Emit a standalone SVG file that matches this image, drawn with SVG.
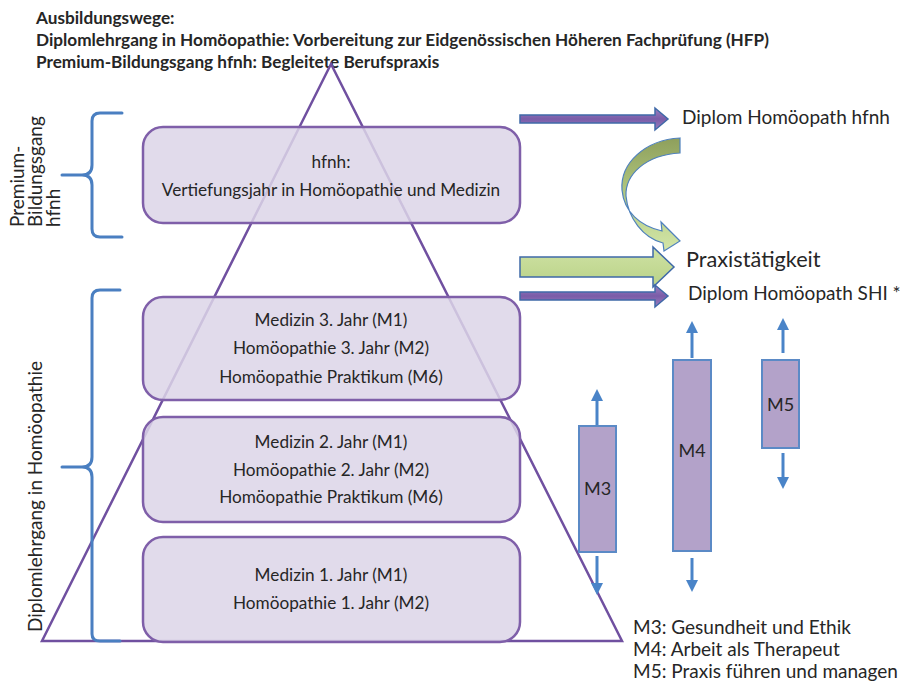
<svg xmlns="http://www.w3.org/2000/svg" width="906" height="682" viewBox="0 0 906 682">
<style>
text{font-family:Lato,"Liberation Sans",sans-serif;fill:#262626}
.hdr{font-weight:bold;font-size:17.2px}
.bx{fill:#dcd5e7;fill-opacity:0.85;stroke:#7f5fa9;stroke-width:2.5}
.bt{font-size:17.2px;text-anchor:middle}
.brace{fill:none;stroke:#4a7fc1;stroke-width:3;stroke-linecap:round;stroke-linejoin:round}
.m{fill:#b3a2c9;stroke:#5b8ac6;stroke-width:2}
.mt{font-size:18px;text-anchor:middle}
.ma{stroke:#4a84c8;stroke-width:3;fill:none}
.rt{font-size:19px}
.lg{font-size:19px}
.vl{font-size:19px}
.parr{fill:url(#pg);stroke:#3f69a8;stroke-width:1.5}
</style>
<defs>
<linearGradient id="pg" x1="0" y1="0" x2="0" y2="1"><stop offset="0" stop-color="#9a80c0"/><stop offset="0.5" stop-color="#7a5ca8"/><stop offset="1" stop-color="#9a80c0"/></linearGradient>
<linearGradient id="gg" x1="0" y1="0" x2="0" y2="1"><stop offset="0" stop-color="#cfe2a4"/><stop offset="1" stop-color="#b9d287"/></linearGradient>
<linearGradient id="cg" x1="0" y1="0" x2="0" y2="1"><stop offset="0" stop-color="#8e9f5c"/><stop offset="0.5" stop-color="#b2c981"/><stop offset="1" stop-color="#d3e6a8"/></linearGradient>
<marker id="ah" viewBox="0 0 10 10" refX="5" refY="5" markerWidth="4" markerHeight="4" orient="auto"><path d="M0,0 L10,5 L0,10 Z" fill="#4a84c8"/></marker>
</defs>
<rect width="906" height="682" fill="#ffffff"/>
<g id="header">
<text class="hdr" x="36" y="24">Ausbildungswege:</text>
<text class="hdr" x="36" y="46">Diplomlehrgang in Homöopathie: Vorbereitung zur Eidgenössischen Höheren Fachprüfung (HFP)</text>
<text class="hdr" x="36" y="68">Premium-Bildungsgang hfnh: Begleitete Berufspraxis</text>
</g>
<g id="pyramid">
<polygon points="331,64 42,641 622,641" fill="none" stroke="#7050a0" stroke-width="2.5" stroke-linejoin="miter"/>
</g>
<g id="box-hfnh">
<rect class="bx" x="143" y="127" width="377" height="96" rx="20"/>
<text class="bt" x="331" y="168">hfnh:</text>
<text class="bt" x="331" y="196">Vertiefungsjahr in Homöopathie und Medizin</text>
</g>
<g id="box-year3">
<rect class="bx" x="143" y="297" width="377" height="103" rx="20"/>
<text class="bt" x="331" y="326">Medizin 3. Jahr (M1)</text>
<text class="bt" x="331" y="354">Homöopathie 3. Jahr (M2)</text>
<text class="bt" x="331" y="383">Homöopathie Praktikum (M6)</text>
</g>
<g id="box-year2">
<rect class="bx" x="143" y="417" width="377" height="105" rx="20"/>
<text class="bt" x="331" y="448">Medizin 2. Jahr (M1)</text>
<text class="bt" x="331" y="476">Homöopathie 2. Jahr (M2)</text>
<text class="bt" x="331" y="503">Homöopathie Praktikum (M6)</text>
</g>
<g id="box-year1">
<rect class="bx" x="143" y="537" width="377" height="105" rx="20"/>
<text class="bt" x="331" y="581">Medizin 1. Jahr (M1)</text>
<text class="bt" x="331" y="609">Homöopathie 1. Jahr (M2)</text>
</g>
<g id="brace-premium">
<path class="brace" d="M122,113 L100,113 Q92,113 92,121 L92,165 Q92,175 82,175 L62,175 M82,175 Q92,175 92,185 L92,229 Q92,237 100,237 L122,237"/>
<text class="vl" transform="translate(24,227) rotate(-90)">Premium-</text>
<text class="vl" transform="translate(42,227) rotate(-90)">Bildungsgang</text>
<text class="vl" transform="translate(60,227) rotate(-90)">hfnh</text>
</g>
<g id="brace-diplom">
<path class="brace" d="M120,290 L100,290 Q92,290 92,298 L92,457 Q92,467 82,467 L62,467 M82,467 Q92,467 92,477 L92,634 Q92,641 100,641 L120,641"/>
<text class="vl" transform="translate(42,632) rotate(-90)">Diplomlehrgang in Homöopathie</text>
</g>
<g id="connectors">
<path class="parr" d="M520,115 L655,115 L655,108 L668,119 L655,130 L655,123 L520,123 Z"/>
<path d="M520,257 L653,257 L653,247 L674,267 L653,287 L653,277 L520,277 Z" fill="url(#gg)" stroke="#3f69a8" stroke-width="1.5"/>
<path class="parr" d="M520,292 L655,292 L655,285 L668,296 L655,307 L655,300 L520,300 Z"/>
<path d="M680,138 C645,140 620,163 622,190 C624,212 640,226 662,231 L661,222 L680,241 L664,251 L663,243 C643,238 628,218 626,196 C625,175 645,155 680,153 Z" fill="url(#cg)" stroke="#4f81bd" stroke-width="1.2"/>
<line class="ma" x1="597" y1="425" x2="597" y2="395" marker-end="url(#ah)"/>
<line class="ma" x1="597" y1="556" x2="597" y2="589" marker-end="url(#ah)"/>
<line class="ma" x1="692" y1="358" x2="692" y2="327" marker-end="url(#ah)"/>
<line class="ma" x1="692" y1="558" x2="692" y2="586" marker-end="url(#ah)"/>
<line class="ma" x1="783" y1="353" x2="783" y2="324" marker-end="url(#ah)"/>
<line class="ma" x1="783" y1="453" x2="783" y2="483" marker-end="url(#ah)"/>
</g>
<g id="outcome-hfnh"><text class="rt" x="682" y="124">Diplom Homöopath hfnh</text></g>
<g id="outcome-praxis"><text x="686" y="267" font-size="21.7">Praxistätigkeit</text></g>
<g id="outcome-shi"><text class="rt" x="688" y="300">Diplom Homöopath SHI *</text></g>
<g id="m3"><rect class="m" x="579" y="426" width="37" height="126"/><text class="mt" x="597.5" y="495">M3</text></g>
<g id="m4"><rect class="m" x="673" y="360" width="38" height="191"/><text class="mt" x="692" y="457">M4</text></g>
<g id="m5"><rect class="m" x="762" y="360" width="37" height="88"/><text class="mt" x="780.5" y="411">M5</text></g>
<g id="legend">
<text class="lg" x="633" y="634">M3: Gesundheit und Ethik</text>
<text class="lg" x="633" y="656">M4: Arbeit als Therapeut</text>
<text class="lg" x="633" y="678">M5: Praxis führen und managen</text>
</g>
</svg>
